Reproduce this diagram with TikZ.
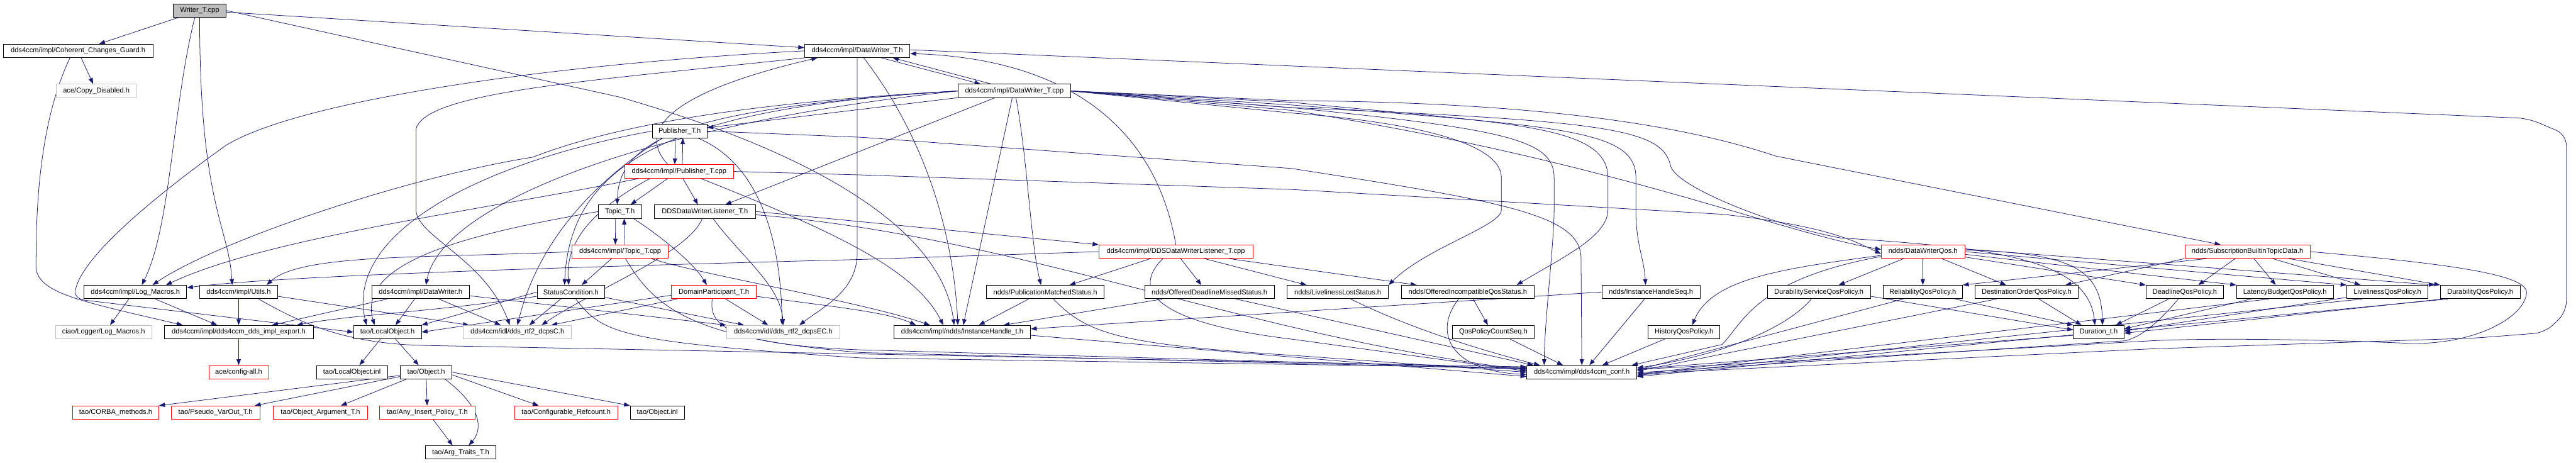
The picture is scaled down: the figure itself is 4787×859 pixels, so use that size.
\documentclass[tikz,border=0pt]{standalone}
\usepackage{fontspec}
\setmainfont{Liberation Sans}
\usetikzlibrary{arrows.meta}
\definecolor{incblue}{HTML}{191970}
\definecolor{extgray}{HTML}{BFBFBF}
\pgfdeclarelayer{edges}
\pgfsetlayers{edges,main}

\begin{document}
\begin{tikzpicture}[x=1pt,y=-1pt,>={Triangle[length=11pt,width=8pt]},
  every node/.style={font=\fontsize{13}{15}\selectfont},
  file/.style={draw,fill=white,line width=1pt,minimum height=25pt,inner sep=0pt},
  trunc/.style={file,draw=red},
  ext/.style={file,draw=extgray},
  inc/.style={->,draw=incblue,line width=0.9pt}]
\useasboundingbox (0,0) rectangle (4787,859);

% rows 0-6
\node[file,fill=extgray,minimum width=98pt] (root) at (371,19.5) {Writer\_T.cpp};
\node[file,minimum width=278pt] (cohr) at (145,94.5) {dds4ccm/impl/Coherent\_Changes\_Guard.h};
\node[file,minimum width=196pt] (dwth) at (1593,94.5) {dds4ccm/impl/DataWriter\_T.h};
\node[ext,minimum width=148pt] (copyd) at (179,169) {ace/Copy\_Disabled.h};
\node[file,minimum width=210pt] (dwtcpp) at (1885,169) {dds4ccm/impl/DataWriter\_T.cpp};
\node[file,minimum width=102pt] (pubh) at (1263,243.5) {Publisher\_T.h};
\node[trunc,minimum width=202pt] (pubcpp) at (1262,318.5) {dds4ccm/impl/Publisher\_T.cpp};
\node[file,minimum width=80pt] (topich) at (1152,393) {Topic\_T.h};
\node[file,minimum width=188pt] (lsnh) at (1310,393) {DDSDataWriterListener\_T.h};
\node[trunc,minimum width=179pt] (topiccpp) at (1152.5,467.5) {dds4ccm/impl/Topic\_T.cpp};
\node[trunc,minimum width=286pt] (lsncpp) at (2185,467.5) {dds4ccm/impl/DDSDataWriterListener\_T.cpp};
\node[trunc,minimum width=155pt] (dwqos) at (3573.5,467.5) {ndds/DataWriterQos.h};
\node[trunc,minimum width=233pt] (sbtd) at (4176.5,467.5) {ndds/SubscriptionBuiltinTopicData.h};

% row 7
\node[file,minimum width=191pt] (logm) at (251.5,542.5) {dds4ccm/impl/Log\_Macros.h};
\node[file,minimum width=145pt] (utils) at (443.5,542.5) {dds4ccm/impl/Utils.h};
\node[file,minimum width=181pt] (dwh) at (781.5,542.5) {dds4ccm/impl/DataWriter.h};
\node[file,minimum width=126pt] (statc) at (1061,542.5) {StatusCondition.h};
\node[trunc,minimum width=157pt] (dpt) at (1326.5,542.5) {DomainParticipant\_T.h};
\node[file,minimum width=219pt] (pms) at (1942.5,542.5) {ndds/PublicationMatchedStatus.h};
\node[file,minimum width=241pt] (odms) at (2247.5,542.5) {ndds/OfferedDeadlineMissedStatus.h};
\node[file,minimum width=188pt] (lls) at (2486,542.5) {ndds/LivelinessLostStatus.h};
\node[file,minimum width=247pt] (oiqs) at (2727.5,542.5) {ndds/OfferedIncompatibleQosStatus.h};
\node[file,minimum width=182pt] (ihseq) at (3068,542.5) {ndds/InstanceHandleSeq.h};
\node[file,minimum width=192pt] (dsqp) at (3380,542.5) {DurabilityServiceQosPolicy.h};
\node[file,minimum width=148pt] (relqp) at (3573,542.5) {ReliabilityQosPolicy.h};
\node[file,minimum width=192pt] (doqp) at (3766,542.5) {DestinationOrderQosPolicy.h};
\node[file,minimum width=144pt] (dlqp) at (4060,542.5) {DeadlineQosPolicy.h};
\node[file,minimum width=180pt] (lbqp) at (4246,542.5) {LatencyBudgetQosPolicy.h};
\node[file,minimum width=151pt] (lvqp) at (4436.5,542.5) {LivelinessQosPolicy.h};
\node[file,minimum width=148pt] (duqp) at (4609,542.5) {DurabilityQosPolicy.h};

% row 8
\node[ext,minimum width=179pt] (clog) at (192.5,617) {ciao/Logger/Log\_Macros.h};
\node[file,minimum width=277pt] (exph) at (443.5,617) {dds4ccm/impl/dds4ccm\_dds\_impl\_export.h};
\node[file,minimum width=126pt] (locobj) at (720,617) {tao/LocalObject.h};
\node[ext,minimum width=201pt] (dcpsc) at (961.5,617) {dds4ccm/idl/dds\_rtf2\_dcpsC.h};
\node[ext,minimum width=211pt] (dcpsec) at (1455.5,617) {dds4ccm/idl/dds\_rtf2\_dcpsEC.h};
\node[file,minimum width=254pt] (iht) at (1788,617) {dds4ccm/impl/ndds/InstanceHandle\_t.h};
\node[file,minimum width=152pt] (qpcs) at (2775,617) {QosPolicyCountSeq.h};
\node[file,minimum width=133pt] (hqp) at (3129.5,617) {HistoryQosPolicy.h};
\node[file,minimum width=94pt] (durt) at (3900,617) {Duration\_t.h};

% rows 9-11
\node[trunc,minimum width=111pt] (cfgall) at (443.5,691.5) {ace/config-all.h};
\node[file,minimum width=132pt] (loinl) at (654,691.5) {tao/LocalObject.inl};
\node[file,minimum width=96pt] (taoobj) at (792,691.5) {tao/Object.h};
\node[file,minimum width=205pt] (conf) at (2939.5,691.5) {dds4ccm/impl/dds4ccm\_conf.h};
\node[trunc,minimum width=160pt] (corba) at (215,766.5) {tao/CORBA\_methods.h};
\node[trunc,minimum width=165pt] (pvo) at (400.5,766.5) {tao/Pseudo\_VarOut\_T.h};
\node[trunc,minimum width=175pt] (oarg) at (595.5,766.5) {tao/Object\_Argument\_T.h};
\node[trunc,minimum width=178pt] (anyins) at (794,766.5) {tao/Any\_Insert\_Policy\_T.h};
\node[trunc,minimum width=192pt] (cref) at (1052,766.5) {tao/Configurable\_Refcount.h};
\node[file,minimum width=101pt] (objinl) at (1221.5,766.5) {tao/Object.inl};
\node[file,minimum width=132pt] (argtr) at (856,840.5) {tao/Arg\_Traits\_T.h};

\begin{pgfonlayer}{edges}
% Writer_T.cpp
\draw[inc] (root) -- (cohr);
\draw[inc] ([xshift=-9pt]root.south) .. controls (320,200) and (318,420) .. ([xshift=12pt]logm.north);
\draw[inc] (root.south) .. controls (371,380) and (425,420) .. ([xshift=-12pt]utils.north);
\draw[inc] (root) -- (dwth);
\draw[inc] (root.east) -- (1150,180) .. controls (1500,280) and (1750,420) .. ([xshift=-15pt]iht.north);
\draw[inc] (cohr) -- (copyd);
\draw[inc] ([xshift=-15pt]cohr.south) .. controls (67,240) and (67,420) .. (67,500) .. controls (75,545) and (150,560) .. ([xshift=-104pt]exph.north);

% DataWriter_T.h
\draw[inc] ([xshift=45pt]dwth.south) -- ([xshift=-63pt]dwtcpp.north);
\draw[inc] ([xshift=-43pt]dwtcpp.north) -- ([xshift=66pt]dwth.south);
\draw[inc] (dwth.west) .. controls (1000,120) and (550,190) .. (420,270) .. controls (280,370) and (150,480) .. (140,540) .. controls (138,552) and (150,557) .. (160,558) -- (locobj.west);
\draw[inc] (dwth.south west) .. controls (1100,150) and (790,170) .. (773,240) -- (773,390) .. controls (775,440) and (900,480) .. ([xshift=-14pt]dcpsc.north);
\draw[inc] (dwth.south) -- (1593,470) .. controls (1593,540) and (1530,570) .. ([xshift=30pt]dcpsec.north);
\draw[inc] ([xshift=12pt]dwth.south) .. controls (1700,230) and (1770,400) .. ([xshift=-8pt]iht.north);
\draw[inc,rounded corners=20pt] ([yshift=2pt]dwth.east) -- (4698,220) -- (4769,250) -- (4769,580) -- (4729,618) -- (4600,628) -- (4000,648) -- ([yshift=-3pt]conf.east);

% DataWriter_T.cpp
\draw[inc] (dwtcpp) -- (pubh);
\draw[inc] (dwtcpp.west) .. controls (1300,200) and (1150,250) .. ([xshift=-5pt]topich.north);
\draw[inc] ([xshift=-37pt]dwtcpp.south) -- ([xshift=38pt]lsnh.north);
\draw[inc] (dwtcpp.west) .. controls (1400,190) and (1150,230) .. (990,292) .. controls (750,330) and (400,450) .. ([xshift=32pt]logm.north);
\draw[inc] (dwtcpp.west) .. controls (1200,230) and (820,380) .. ([xshift=10pt]dwh.north);
\draw[inc] (dwtcpp.west) .. controls (1250,200) and (1060,300) .. ([xshift=-12pt]statc.north);
\draw[inc] ([xshift=3pt]dwtcpp.south) .. controls (1910,300) and (1915,450) .. ([xshift=-8pt]pms.north);
\draw[inc] ([xshift=-4pt]dwtcpp.south) -- ([xshift=2pt]iht.north);
\draw[inc] (dwtcpp.east) -- (2400,210) .. controls (2600,225) and (2790,260) .. (2790,330) -- (2790,390) .. controls (2790,420) and (2650,460) .. (lls.north east);
\draw[inc] (dwtcpp.east) -- (2400,190) .. controls (2800,230) and (2988,230) .. (2988,330) -- (2988,390) .. controls (2988,440) and (2900,480) .. ([xshift=-33pt]oiqs.north east);
\draw[inc] (dwtcpp.east) -- (2400,200) .. controls (2800,240) and (2888,260) .. (2888,330) -- (2888,390) .. controls (2888,450) and (2870,600) .. ([xshift=-70pt]conf.north);
\draw[inc] (dwtcpp.east) -- (2400,195) .. controls (2900,235) and (3040,240) .. (3040,330) -- (3040,400) .. controls (3042,460) and (3055,480) .. ([xshift=-10pt]ihseq.north);
\draw[inc] (dwtcpp.east) -- (2400,200) .. controls (3000,225) and (3090,240) .. (3105,310) .. controls (3120,350) and (3300,420) .. (3420,442) .. controls (3700,460) and (3880,480) .. ([xshift=-7pt]durt.north);
\draw[inc] (dwtcpp.east) -- (2400,187) .. controls (2900,190) and (3150,240) .. (3300,290) -- ([xshift=-50pt]sbtd.north);
\draw[inc] (dwtcpp.east) -- (2400,205) .. controls (3000,300) and (3300,430) .. ([yshift=4pt]dwqos.west);

% Publisher
\draw[inc] ([xshift=-8pt]pubh.south) -- ([xshift=-8pt]pubcpp.north);
\draw[inc] ([xshift=6pt]pubcpp.north) -- ([xshift=6pt]pubh.south);
\draw[inc] (pubh.west) .. controls (900,300) and (640,430) .. ([xshift=-39pt]locobj.north);
\draw[inc] ([xshift=-32pt]pubh.south) .. controls (1100,340) and (1000,450) .. (dcpsc.north);
\draw[inc] ([xshift=34pt]pubh.south) .. controls (1400,300) and (1450,420) .. ([xshift=-2pt]dcpsec.north);
\draw[inc] (pubh.east) -- (1600,255) -- (2400,313) .. controls (2800,375) and (2938,400) .. (2938,480) -- (conf.north);
\draw[inc] ([xshift=-21pt]pubcpp.north) .. controls (1180,240) and (1250,170) .. ([xshift=-74pt]dwth.south);
\draw[inc] ([xshift=-21pt]pubcpp.south) -- ([xshift=20pt]topich.north);
\draw[inc] ([xshift=7pt]pubcpp.south) -- ([xshift=-13pt]lsnh.north);
\draw[inc] ([xshift=-74pt]pubcpp.south) .. controls (900,390) and (500,440) .. ([xshift=57pt]logm.north);
\draw[inc] ([xshift=-54pt]pubcpp.south) .. controls (1100,390) and (1050,450) .. ([xshift=-4pt]statc.north);
\draw[inc] ([xshift=40pt]pubcpp.south) .. controls (1550,430) and (1700,500) .. ([xshift=-35pt]iht.north);
\draw[inc] (pubcpp.east) -- (1600,325) -- (2400,352) -- (3200,398) .. controls (3400,420) and (3450,450) .. ([yshift=-4pt]dwqos.west);

% Topic
\draw[inc] ([xshift=-8pt]topich.south) -- ([xshift=-9pt]topiccpp.north);
\draw[inc] ([xshift=8pt]topiccpp.north) -- ([xshift=8pt]topich.south);
\draw[inc] (topich.west) .. controls (900,430) and (660,480) .. ([xshift=-24pt]locobj.north);
\draw[inc] ([xshift=25pt]topich.south) .. controls (1230,440) and (1290,490) .. ([xshift=-13pt]dpt.north);
\draw[inc] ([xshift=-16pt]topiccpp.south) -- ([xshift=20pt]statc.north);
\draw[inc] (topiccpp.west) .. controls (800,480) and (560,470) .. ([xshift=52pt]utils.north);
\draw[inc] ([xshift=58pt]topiccpp.south) .. controls (1300,510) and (1600,560) .. ([xshift=-60pt]iht.north);
\draw[inc] ([xshift=10pt]topiccpp.south) .. controls (1220,580) and (1300,630) .. (1600,655) -- ([yshift=6pt]conf.west);

% listener
\draw[inc] (lsnh.east) -- (lsncpp.north west);
\draw[inc] ([xshift=-5pt]lsnh.south) .. controls (1280,470) and (1100,540) .. ([xshift=45pt]dcpsc.north);
\draw[inc] ([xshift=15pt]lsnh.south) .. controls (1380,480) and (1450,530) .. (dcpsec.north);
\draw[inc] ([yshift=-6pt]lsnh.east) .. controls (1900,440) and (2300,620) .. ([yshift=4pt]conf.west);
\draw[inc] (lsncpp.north) .. controls (2150,250) and (2000,110) .. ([yshift=-5pt]dwth.east);
\draw[inc] (lsncpp.west) -- (1600,482) .. controls (900,500) and (500,515) .. ([yshift=8pt]logm.east);
\draw[inc] ([xshift=-47pt]lsncpp.south) -- ([xshift=45pt]pms.north);
\draw[inc] ([xshift=9pt]lsncpp.south) -- ([xshift=-15pt]odms.north);
\draw[inc] ([xshift=53pt]lsncpp.south) -- ([xshift=-58pt]lls.north);
\draw[inc] ([xshift=99pt]lsncpp.south) -- ([xshift=-95pt]oiqs.north);
\draw[inc] ([xshift=-24pt]lsncpp.south) .. controls (2100,540) and (2150,600) .. (2400,630) -- ([yshift=2pt]conf.west);

% row 7 left
\draw[inc] ([xshift=-12pt]logm.south) -- ([xshift=12pt]clog.north);
\draw[inc] ([xshift=37pt]logm.south) -- ([xshift=-40pt]exph.north);
\draw[inc] (utils) -- (exph);
\draw[inc] ([yshift=-8pt]utils.east) -- ([xshift=-90pt]dcpsc.north);
\draw[inc] ([xshift=37pt]utils.south) .. controls (560,600) and (640,640) .. (800,642) -- ([yshift=10pt]conf.west);
\draw[inc] ([xshift=-62pt]dwh.south) -- ([xshift=62pt]exph.north);
\draw[inc] ([xshift=-11pt]dwh.south) -- ([xshift=15pt]locobj.north);
\draw[inc] ([xshift=34pt]dwh.south) -- ([xshift=-31pt]dcpsc.north);
\draw[inc] ([yshift=-7pt]dwh.east) -- (dcpsec.north west);
\draw[inc] (statc.west) -- (locobj.north east);
\draw[inc] ([yshift=-8pt]statc.west) .. controls (800,580) and (650,585) .. ([xshift=108pt]exph.north);
\draw[inc] ([xshift=-19pt]statc.south) -- ([xshift=22pt]dcpsc.north);
\draw[inc] ([yshift=-10pt]statc.east) -- ([xshift=-73pt]dcpsec.north);
\draw[inc] ([xshift=9pt]statc.south) .. controls (1120,620) and (1150,635) .. (1600,665) -- ([yshift=8pt]conf.west);
\draw[inc] ([yshift=-6pt]dpt.west) -- (locobj.east);
\draw[inc] ([xshift=-68pt]dpt.south) -- ([xshift=63pt]dcpsc.north);
\draw[inc] ([xshift=22pt]dpt.south) -- ([xshift=-28pt]dcpsec.north);
\draw[inc] ([yshift=-8pt]dpt.east) .. controls (1550,570) and (1650,580) .. ([xshift=-86pt]iht.north);
\draw[inc] ([xshift=-3pt]dpt.south) .. controls (1318,600) and (1340,640) .. (1600,650) -- ([yshift=7pt]conf.west);

% ndds status
\draw[inc] ([xshift=-31pt]pms.south) -- ([xshift=31pt]iht.north);
\draw[inc] ([xshift=15pt]pms.south) .. controls (2020,620) and (2080,640) .. (2400,660) -- ([yshift=0pt]conf.west);
\draw[inc] ([xshift=-87pt]odms.south) -- ([xshift=77pt]iht.north);
\draw[inc] ([xshift=49pt]odms.south) -- ([xshift=-90pt]conf.north);
\draw[inc] ([xshift=24pt]lls.south) .. controls (2620,610) and (2750,650) .. ([xshift=-78pt]conf.north);
\draw[inc] ([xshift=10pt]oiqs.south) -- ([xshift=-10pt]qpcs.north);
\draw[inc] ([xshift=-17pt]oiqs.south) .. controls (2660,620) and (2700,690) .. ([yshift=-4pt]conf.west);
\draw[inc] ([xshift=31pt]qpcs.south) -- ([xshift=-35pt]conf.north);
\draw[inc] (ihseq.west) -- ([yshift=6pt]iht.east);
\draw[inc] ([xshift=-12pt]ihseq.south) -- ([xshift=14pt]conf.north);
\draw[inc] ([xshift=-36pt]hqp.south) -- ([xshift=38pt]conf.north);
\draw[inc] ([yshift=-6pt]iht.east) -- ([yshift=-8pt]conf.west);

% qos
\draw[inc] ([xshift=-36pt]dwqos.south) -- ([xshift=37pt]dsqp.north);
\draw[inc] (dwqos) -- (relqp);
\draw[inc] ([xshift=35pt]dwqos.south) -- ([xshift=-38pt]doqp.north);
\draw[inc] ([yshift=-10pt]dwqos.east) -- (dlqp.north west);
\draw[inc] ([yshift=-5pt]dwqos.east) -- (lbqp.north west);
\draw[inc] (dwqos.east) -- (lvqp.north west);
\draw[inc] ([yshift=5pt]dwqos.east) -- ([xshift=-10pt]duqp.north west);
\draw[inc] ([yshift=-7pt]dwqos.west) .. controls (3300,500) and (3180,520) .. ([xshift=15pt]hqp.north);
\draw[inc] ([yshift=-9pt]dwqos.west) .. controls (3260,520) and (3240,600) .. (3200,640) -- ([xshift=-10pt]conf.north east);
\draw[inc] ([yshift=3pt]dwqos.east) .. controls (3850,470) and (3905,500) .. ([xshift=7pt]durt.north);
\draw[inc] ([xshift=-23pt]sbtd.south) -- ([xshift=25pt]dlqp.north);
\draw[inc] ([xshift=12pt]sbtd.south) -- ([xshift=-17pt]lbqp.north);
\draw[inc] ([xshift=47pt]sbtd.south) -- ([xshift=-50pt]lvqp.north);
\draw[inc] ([xshift=77pt]sbtd.south) -- (duqp.north west);
\draw[inc] ([xshift=-76pt]sbtd.south) -- (relqp.north east);
\draw[inc] (sbtd.south west) -- ([xshift=72pt]doqp.north);
\draw[inc] (sbtd.east) .. controls (4550,490) and (4700,510) .. (4695,545) .. controls (4690,590) and (4600,640) .. (4480,638) .. controls (4300,630) and (4100,628) .. (4000,633) -- ([yshift=5pt]conf.east);
\draw[inc] ([yshift=-8pt]dsqp.east) -- ([yshift=4pt]durt.west);
\draw[inc] ([xshift=-14pt]dsqp.south) .. controls (3320,610) and (3200,660) .. ([yshift=8pt]conf.east);
\draw[inc] ([xshift=60pt]relqp.south) -- (durt.north west);
\draw[inc] ([xshift=-36pt]relqp.south) -- ([yshift=4pt]conf.east);
\draw[inc] ([xshift=23pt]doqp.south) -- ([xshift=-32pt]durt.north);
\draw[inc] ([xshift=-56pt]doqp.south) -- ([yshift=2pt]conf.east);
\draw[inc] ([xshift=-30pt]dlqp.south) -- ([xshift=32pt]durt.north);
\draw[inc] ([xshift=-12pt]dlqp.south) .. controls (4010,600) and (3980,625) .. (3950,633) -- ([yshift=-1pt]conf.east);
\draw[inc] ([xshift=-63pt]lbqp.south) -- ([yshift=6pt]durt.east);
\draw[inc] ([xshift=-30pt]lbqp.south) -- ([yshift=-4pt]conf.east);
\draw[inc] ([yshift=-10pt]lvqp.west) -- ([yshift=2pt]durt.east);
\draw[inc] ([xshift=-47pt]lvqp.south) -- ([yshift=-6pt]conf.east);
\draw[inc] ([xshift=-70pt]duqp.south) -- ([yshift=-2pt]durt.east);
\draw[inc] ([xshift=-60pt]duqp.south) -- ([yshift=-8pt]conf.east);
\draw[inc] ([yshift=-6pt]durt.west) -- ([yshift=6pt]conf.east);

% tao
\draw[inc] (exph) -- (cfgall);
\draw[inc] ([xshift=-13pt]locobj.south) -- ([xshift=14pt]loinl.north);
\draw[inc] ([xshift=15pt]locobj.south) -- ([xshift=-14pt]taoobj.north);
\draw[inc] ([yshift=-6pt]taoobj.west) -- (corba.north east);
\draw[inc] ([yshift=-8pt]taoobj.west) -- ([xshift=73pt]pvo.north);
\draw[inc] ([xshift=-37pt]taoobj.south) -- ([xshift=38pt]oarg.north);
\draw[inc] (taoobj) -- (anyins);
\draw[inc] ([yshift=-5pt]taoobj.east) -- ([xshift=-51pt]cref.north);
\draw[inc] (taoobj.east) -- (objinl.north west);
\draw[inc] ([xshift=35pt]taoobj.south) .. controls (900,760) and (895,800) .. ([xshift=15pt]argtr.north);
\draw[inc] ([xshift=11pt]anyins.south) -- ([xshift=-15pt]argtr.north);
\end{pgfonlayer}
\end{tikzpicture}
\end{document}
